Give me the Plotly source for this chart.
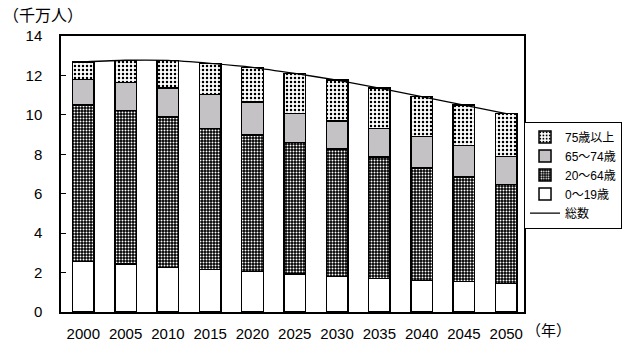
import plotly.graph_objects as go

years = ["2000", "2005", "2010", "2015", "2020", "2025", "2030", "2035", "2040", "2045", "2050"]
age_0_19 = [2.57, 2.43, 2.26, 2.16, 2.06, 1.93, 1.81, 1.70, 1.60, 1.55, 1.45]
age_20_64 = [7.92, 7.80, 7.63, 7.16, 6.91, 6.68, 6.45, 6.15, 5.70, 5.29, 5.03]
age_65_74 = [1.31, 1.42, 1.46, 1.72, 1.67, 1.47, 1.42, 1.45, 1.60, 1.60, 1.40]
age_75_up = [0.89, 1.12, 1.41, 1.57, 1.77, 2.02, 2.08, 2.06, 2.02, 2.05, 2.18]
total = [12.69, 12.77, 12.76, 12.61, 12.41, 12.10, 11.76, 11.36, 10.92, 10.49, 10.06]
y_ticks = [0, 2, 4, 6, 8, 10, 12, 14]

FONT = "Liberation Sans, Noto Sans CJK JP"
CJK = "Noto Sans CJK JP"
line = dict(color="black", width=1.5)

fig = go.Figure()
fig.add_trace(go.Bar(x=years, y=age_0_19, name="0～19歳", legendrank=4,
                     marker=dict(color="white", line=line)))
fig.add_trace(go.Bar(x=years, y=age_20_64, name="20～64歳", legendrank=3,
                     marker=dict(color="black", line=line,
                                 pattern=dict(shape=".", fillmode="replace", bgcolor="black",
                                              fgcolor="white", size=3, solidity=0.35))))
fig.add_trace(go.Bar(x=years, y=age_65_74, name="65～74歳", legendrank=2,
                     marker=dict(color="#c4c2c4", line=line)))
fig.add_trace(go.Bar(x=years, y=age_75_up, name="75歳以上", legendrank=1,
                     marker=dict(color="white", line=line,
                                 pattern=dict(shape=".", fillmode="replace", bgcolor="white",
                                              fgcolor="black", size=4, solidity=0.3))))
fig.add_trace(go.Scatter(x=years, y=total, name="総数", mode="lines", legendrank=5,
                         line=dict(color="black", width=1.3, shape="spline", smoothing=0.6)))

fig.update_layout(
    width=628, height=349,
    margin=dict(l=61, r=104, t=36, b=37, autoexpand=False),
    paper_bgcolor="white", plot_bgcolor="white",
    barmode="stack", bargap=0.49,
    font=dict(family=FONT, size=14, color="black"),
    showlegend=True,
    legend=dict(traceorder="normal", x=1.2117, y=0.69, xanchor="right", yanchor="top",
                bordercolor="black", borderwidth=1, bgcolor="white",
                font=dict(size=12, family=FONT), itemwidth=30, tracegroupgap=0),
    xaxis=dict(type="category", range=[-0.527, 10.42], showline=True, linecolor="black",
               linewidth=1.5, mirror=True, ticks="", showgrid=False, ticklabelstandoff=7,
               tickfont=dict(size=15, family=FONT)),
    yaxis=dict(range=[0, 14], tickvals=y_ticks, showline=True, linecolor="black",
               linewidth=1.5, mirror=True, ticks="inside", ticklen=5, tickcolor="black",
               showgrid=False, zeroline=False, ticklabelstandoff=14,
               tickfont=dict(size=15, family=FONT)),
    annotations=[
        dict(text="（千万人）", xref="paper", yref="paper", x=-0.13, y=1.08,
             xanchor="left", yanchor="middle", showarrow=False, font=dict(size=16, family=CJK)),
        dict(text="（年）", xref="paper", yref="paper", x=1.0, y=-0.065,
             xanchor="left", yanchor="middle", showarrow=False, font=dict(size=15, family=CJK)),
    ],
)

fig.write_html("out.html")
